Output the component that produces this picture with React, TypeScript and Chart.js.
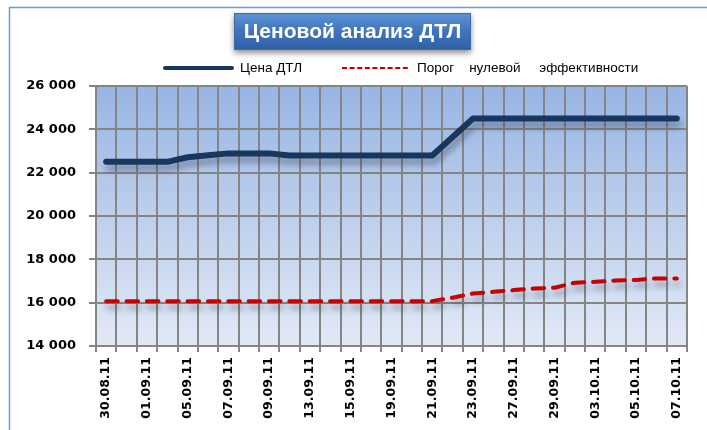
import React, { useEffect, useRef } from 'react';
import { Chart, registerables } from 'chart.js';

Chart.register(...registerables);

const dates = [
  '30.08.11', '31.08.11', '01.09.11', '02.09.11', '05.09.11', '06.09.11', '07.09.11', '08.09.11',
  '09.09.11', '12.09.11', '13.09.11', '14.09.11', '15.09.11', '16.09.11', '19.09.11', '20.09.11',
  '21.09.11', '22.09.11', '23.09.11', '26.09.11', '27.09.11', '28.09.11', '29.09.11', '30.09.11',
  '03.10.11', '04.10.11', '05.10.11', '06.10.11', '07.10.11',
];

const priceDTL = [
  22500, 22500, 22500, 22500, 22710, 22800, 22890, 22890, 22890,
  22790, 22790, 22790, 22790, 22790, 22790, 22790, 22790,
  23650,
  24500, 24500, 24500, 24500, 24500, 24500, 24500, 24500, 24500, 24500, 24500,
];

const breakEven = [
  16070, 16070, 16070, 16070, 16070, 16070, 16070, 16070, 16070,
  16070, 16070, 16070, 16070, 16070, 16070, 16070, 16070,
  16230, 16420, 16500, 16580, 16650, 16690, 16920, 16960, 17020, 17050, 17120, 17120,
];

const yMin = 14000;
const yMax = 26000;
const yStep = 2000;

const titleText = 'Ценовой анализ ДТЛ';
const seriesNames = ['Цена ДТЛ', 'Порог    нулевой     эффективности'];

const BLUE = '#17375e';
const RED = '#c80000';
const GRID = '#858585';

const fmt = (v: number) => {
  const s = Math.round(v).toString();
  return s.replace(/\B(?=(\d{3})+(?!\d))/g, ' ');
};

const decorPlugin = {
  id: 'decor',
  beforeDraw(chart: any) {
    const { ctx, chartArea: a, width, height } = chart;
    ctx.save();
    ctx.fillStyle = '#ffffff';
    ctx.fillRect(0, 0, width, height);
    // outer frame
    ctx.strokeStyle = '#6f9bd2';
    ctx.lineWidth = 1.5;
    ctx.beginPath();
    ctx.moveTo(9.5, height);
    ctx.lineTo(9.5, 7.5);
    ctx.lineTo(width, 7.5);
    ctx.stroke();
    // plot gradient
    const g = ctx.createLinearGradient(0, a.top, 0, a.bottom);
    g.addColorStop(0, '#97b5e4');
    g.addColorStop(0.5, '#bdcfec');
    g.addColorStop(1, '#e1e9f6');
    ctx.fillStyle = g;
    ctx.fillRect(a.left, a.top, a.right - a.left, a.bottom - a.top);
    ctx.restore();
  },
  beforeDatasetDraw(chart: any) {
    const ctx = chart.ctx;
    ctx.save();
    ctx.shadowColor = 'rgba(40,40,60,0.4)';
    ctx.shadowBlur = 6;
    ctx.shadowOffsetX = 2;
    ctx.shadowOffsetY = 6;
  },
  afterDatasetDraw(chart: any) {
    chart.ctx.restore();
  },
  afterDraw(chart: any) {
    const { ctx } = chart;
    ctx.save();
    // title box
    const bx = 234, by = 13, bw = 237, bh = 37;
    ctx.shadowColor = 'rgba(0,0,0,0.45)';
    ctx.shadowBlur = 6;
    ctx.shadowOffsetY = 3;
    const tg = ctx.createLinearGradient(0, by, 0, by + bh);
    tg.addColorStop(0, '#5d93d6');
    tg.addColorStop(0.5, '#3f74bd');
    tg.addColorStop(1, '#2f60a5');
    ctx.fillStyle = tg;
    ctx.fillRect(bx, by, bw, bh);
    ctx.shadowColor = 'transparent';
    ctx.strokeStyle = '#3b69a8';
    ctx.lineWidth = 1;
    ctx.strokeRect(bx + 0.5, by + 0.5, bw - 1, bh - 1);
    ctx.fillStyle = '#ffffff';
    ctx.font = 'bold 21px "Liberation Sans", Arial, sans-serif';
    ctx.textAlign = 'center';
    ctx.textBaseline = 'middle';
    ctx.fillText(titleText, bx + bw / 2, by + bh / 2 + 1);

    // legend
    const ly = 68;
    ctx.lineCap = 'round';
    ctx.strokeStyle = BLUE;
    ctx.lineWidth = 4;
    ctx.beginPath();
    ctx.moveTo(165, ly);
    ctx.lineTo(232, ly);
    ctx.stroke();
    ctx.lineCap = 'butt';
    ctx.strokeStyle = RED;
    ctx.lineWidth = 2;
    ctx.setLineDash([5, 2.6]);
    ctx.beginPath();
    ctx.moveTo(342, ly);
    ctx.lineTo(410, ly);
    ctx.stroke();
    ctx.setLineDash([]);
    ctx.fillStyle = '#000000';
    ctx.font = '13.5px "Liberation Sans", Arial, sans-serif';
    ctx.textAlign = 'left';
    ctx.textBaseline = 'middle';
    ctx.fillText(seriesNames[0], 240, ly);
    ctx.fillText(seriesNames[1], 417, ly);
    ctx.restore();
  },
};

export default function App() {
  const ref = useRef<HTMLCanvasElement | null>(null);

  useEffect(() => {
    if (!ref.current) return;
    const chart = new Chart(ref.current, {
      type: 'line',
      data: {
        labels: dates,
        datasets: [
          {
            label: seriesNames[0],
            data: priceDTL,
            borderColor: BLUE,
            backgroundColor: BLUE,
            borderWidth: 6,
            borderCapStyle: 'round',
            borderJoinStyle: 'round',
            pointRadius: 0,
            tension: 0,
          },
          {
            label: seriesNames[1],
            data: breakEven,
            borderColor: RED,
            backgroundColor: RED,
            borderWidth: 4,
            borderDash: [11.5, 8.85],
            borderCapStyle: 'round',
            borderJoinStyle: 'round',
            pointRadius: 0,
            tension: 0,
          },
        ],
      },
      options: {
        animation: false,
        responsive: true,
        maintainAspectRatio: false,
        devicePixelRatio: 1,
        layout: { padding: { top: 86, right: 20, bottom: 0, left: 0 } },
        plugins: {
          legend: { display: false },
          title: { display: false },
          tooltip: { enabled: false },
        },
        scales: {
          x: {
            type: 'category',
            offset: true,
            afterFit: (s: any) => { s.height = 84; },
            grid: { offset: true, color: GRID, lineWidth: 2, tickLength: 6, drawTicks: true },
            border: { color: GRID, width: 2 },
            ticks: {
              autoSkip: false,
              minRotation: 90,
              maxRotation: 90,
              padding: 5,
              color: '#000000',
              font: { family: '"DejaVu Sans", Verdana, sans-serif', weight: 'bold', size: 12.5 },
              callback: (_v: any, i: number) => (i % 2 === 0 ? dates[i] : ''),
            },
          },
          y: {
            min: yMin,
            max: yMax,
            afterFit: (s: any) => { s.width = 96; },
            grid: { color: GRID, lineWidth: 2, tickLength: 7, drawTicks: true },
            border: { color: GRID, width: 2 },
            ticks: {
              stepSize: yStep,
              padding: 13,
              color: '#000000',
              font: { family: '"DejaVu Sans", Verdana, sans-serif', weight: 'bold', size: 13 },
              callback: (v: any) => fmt(Number(v)),
            },
          },
        },
      },
      plugins: [decorPlugin],
    });
    return () => chart.destroy();
  }, []);

  return (
    <div style={{ position: 'absolute', left: 0, top: 0, width: 707, height: 430 }}>
      <canvas ref={ref} />
    </div>
  );
}
